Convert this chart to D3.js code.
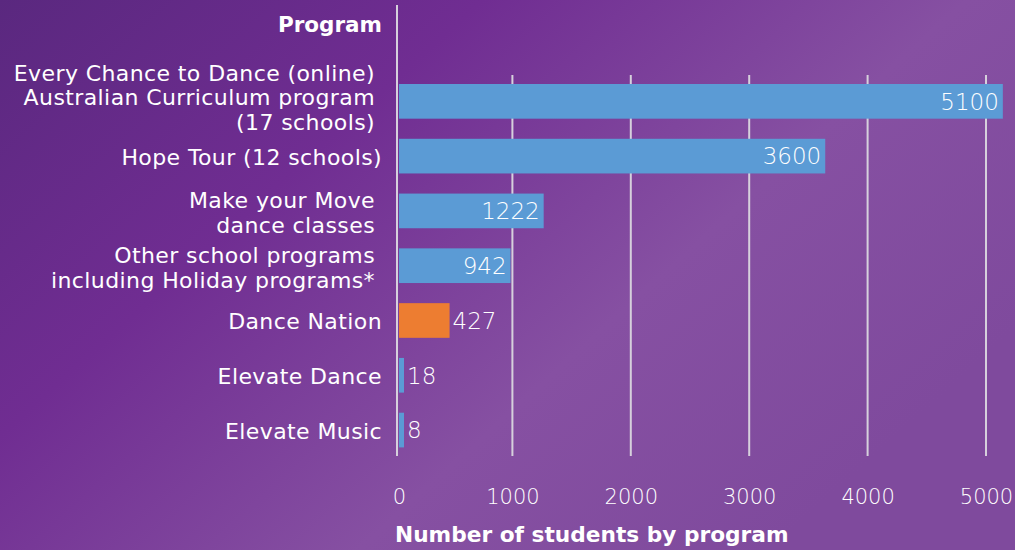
<!DOCTYPE html>
<html>
<head>
<meta charset="utf-8">
<script src="https://cdn.jsdelivr.net/npm/d3@7"></script>
<style>
  body { margin: 0; background: #6e2c90; }
  svg { display: block; }
</style>
</head>
<body>
<div id="chart"></div>
<script>
// Data
const programs = [
  "Every Chance to Dance (online)|Australian Curriculum program|(17 schools)",
  "Hope Tour (12 schools)",
  "Make your Move|dance classes",
  "Other school programs|including Holiday programs*",
  "Dance Nation",
  "Elevate Dance",
  "Elevate Music"
];
const students = [5100, 3600, 1222, 942, 427, 18, 8];
const highlighted = ["Dance Nation"];
const xTicks = [0, 1000, 2000, 3000, 4000, 5000];

// Setup
const width = 1015;
const height = 550;
const font = "'DejaVu Sans', sans-serif";

const rows = programs.map((p, i) => ({ program: p, lines: p.split("|"), value: students[i] }));

const svg = d3.select("#chart")
  .append("svg")
  .attr("width", width)
  .attr("height", height);

// background gradient
const defs = svg.append("defs");
const grad = defs.append("linearGradient")
  .attr("id", "bg")
  .attr("x1", "0%").attr("y1", "0%")
  .attr("x2", "100%").attr("y2", "60%");
grad.append("stop").attr("offset", "0%").attr("stop-color", "#5a287f");
grad.append("stop").attr("offset", "35%").attr("stop-color", "#702d92");
grad.append("stop").attr("offset", "70%").attr("stop-color", "#8650a2");
grad.append("stop").attr("offset", "100%").attr("stop-color", "#7f4a9d");

svg.append("rect")
  .attr("width", width)
  .attr("height", height)
  .attr("fill", "url(#bg)");

// scales
const x = d3.scaleLinear()
  .domain([0, 5000])
  .range([394, 986]);

const y = d3.scaleBand()
  .domain(programs)
  .range([84, 447.4])
  .paddingInner(0.367)
  .paddingOuter(0);

const barOffset = 5;

// gridlines
svg.append("g")
  .selectAll("line")
  .data(xTicks.slice(1))
  .enter()
  .append("line")
  .attr("x1", d => x(d))
  .attr("x2", d => x(d))
  .attr("y1", 75)
  .attr("y2", 456)
  .attr("stroke", "#d6d0dc")
  .attr("stroke-width", 2);

// y axis line
svg.append("line")
  .attr("x1", 397)
  .attr("x2", 397)
  .attr("y1", 5)
  .attr("y2", 456)
  .attr("stroke", "#d6d0dc")
  .attr("stroke-width", 2);

// x axis (labels only)
const xAxis = svg.append("g")
  .attr("transform", "translate(0,489)")
  .call(d3.axisBottom(x).tickValues(xTicks).tickSize(0).tickPadding(0).tickFormat(d3.format("d")));
xAxis.select(".domain").remove();
xAxis.selectAll("text")
  .attr("font-family", font)
  .attr("font-size", "21px")
  .attr("font-weight", 200)
  .attr("fill", "white")
  .attr("dx", d => d === 0 ? 5 : 0);

// bars
svg.append("g")
  .selectAll("rect")
  .data(rows)
  .enter()
  .append("rect")
  .attr("x", x(0) + barOffset)
  .attr("y", d => y(d.program))
  .attr("height", y.bandwidth())
  .attr("width", d => Math.max(5, x(d.value) - x(0)))
  .attr("fill", d => highlighted.includes(d.program) ? "#ed7d31" : "#5b9bd5");

// value labels: inside for long bars, outside for short
const inside = d => x(d.value) - x(0) > 100;
svg.append("g")
  .selectAll("text")
  .data(rows)
  .enter()
  .append("text")
  .attr("x", d => {
    const end = x(0) + barOffset + Math.max(5, x(d.value) - x(0));
    return inside(d) ? end - 4 : end + 3;
  })
  .attr("y", d => y(d.program) + y.bandwidth() / 2)
  .attr("dy", "0.36em")
  .attr("text-anchor", d => inside(d) ? "end" : "start")
  .attr("font-family", font)
  .attr("font-size", "23px")
  .attr("font-weight", 200)
  .attr("fill", "white")
  .text(d => d.value);

// category labels
const labels = svg.append("g")
  .selectAll("text")
  .data(rows)
  .enter()
  .append("text")
  .attr("text-anchor", "end")
  .attr("font-family", font)
  .attr("font-size", "22px")
  .attr("letter-spacing", "0.4px")
  .attr("fill", "white");

// small nudge per line count, as in the original layout
const nudge = { 1: 1, 2: 2, 3: -4 };
labels.each(function(d) {
  const t = d3.select(this);
  const lh = 24.5;
  const n = d.lines.length;
  const xPos = n > 1 ? 375 : 382;
  const cy = y(d.program) + y.bandwidth() / 2 - (n - 1) * lh / 2 + nudge[n];
  d.lines.forEach((line, i) => {
    t.append("tspan")
      .attr("x", xPos)
      .attr("y", cy + i * lh)
      .attr("dy", "0.35em")
      .text(line);
  });
});

// titles
svg.append("text")
  .attr("x", 382)
  .attr("y", 24)
  .attr("dy", "0.35em")
  .attr("text-anchor", "end")
  .attr("font-family", font)
  .attr("font-size", "21.5px")
  .attr("font-weight", "bold")
  .attr("fill", "white")
  .text("Program");

svg.append("text")
  .attr("x", 395)
  .attr("y", 534)
  .attr("dy", "0.35em")
  .attr("font-family", font)
  .attr("font-size", "21.7px")
  .attr("font-weight", "bold")
  .attr("fill", "white")
  .text("Number of students by program");
</script>
</body>
</html>
